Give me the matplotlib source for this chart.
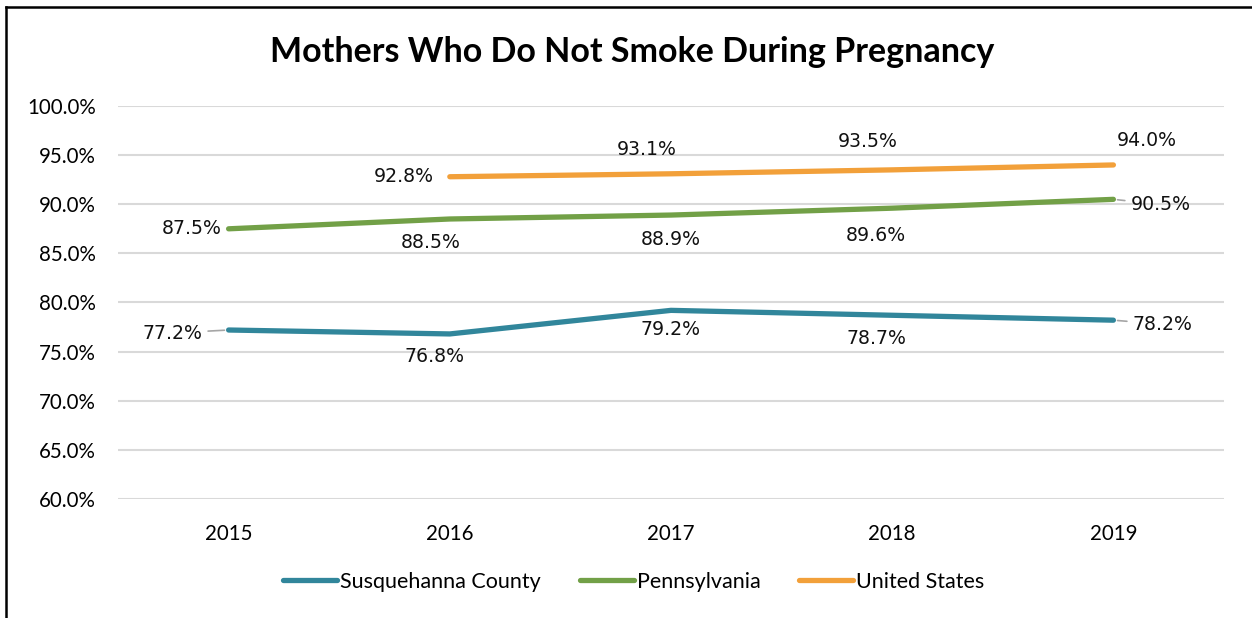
import matplotlib
matplotlib.use("Agg")
import matplotlib.pyplot as plt
from matplotlib.lines import Line2D

years = ["2015", "2016", "2017", "2018", "2019"]
susquehanna = [77.2, 76.8, 79.2, 78.7, 78.2]
pennsylvania = [87.5, 88.5, 88.9, 89.6, 90.5]
us_years = ["2016", "2017", "2018", "2019"]
united_states = [92.8, 93.1, 93.5, 94.0]
y_ticks = [60, 65, 70, 75, 80, 85, 90, 95, 100]

# label offsets in pixels (dx, dy) and whether a leader line is drawn
susq_offsets = [(-56, -3, True), (-15, -23, False), (0, -19, False), (-16, -23, False), (49, -4, True)]
pa_offsets = [(-37, 0, False), (-19, -24, False), (0, -24, False), (-16, -27, False), (47, -5, True)]
us_offsets = [(-46, 0, False), (-24, 24, False), (-25, 28, False), (33, 24, False)]

TEAL = "#31869B"
GREEN = "#72A047"
ORANGE = "#F2A03A"

W, H = 1252, 618
fig = plt.figure(figsize=(W / 100, H / 100), dpi=100)
ax = fig.add_axes([118 / W, 1 - 499 / H, (1224 - 118) / W, (499 - 106) / H])

x_all = list(range(len(years)))
x_us = [years.index(y) for y in us_years]

ax.plot(x_all, susquehanna, color=TEAL, lw=3.8, solid_capstyle="round", zorder=3)
ax.plot(x_all, pennsylvania, color=GREEN, lw=3.8, solid_capstyle="round", zorder=3)
ax.plot(x_us, united_states, color=ORANGE, lw=3.8, solid_capstyle="round", zorder=3)

label_font = dict(family="DejaVu Sans", size=13.6, color="#111111")


def add_labels(xs, vals, offsets):
    for x, v, (dx, dy, leader) in zip(xs, vals, offsets):
        kw = {}
        if leader:
            kw["arrowprops"] = dict(arrowstyle="-", color="#A6A6A6", lw=1.2,
                                    shrinkA=2, shrinkB=3)
        ax.annotate(f"{v:.1f}%", xy=(x, v), xytext=(dx, dy),
                    textcoords="offset pixels", ha="center", va="center",
                    zorder=4, **label_font, **kw)


add_labels(x_all, susquehanna, susq_offsets)
add_labels(x_all, pennsylvania, pa_offsets)
add_labels(x_us, united_states, us_offsets)

ax.set_xlim(-0.5, len(years) - 0.5)
ax.set_ylim(60, 100)
ax.set_yticks(y_ticks)
ax.set_yticklabels([f"{t:.1f}%" for t in y_ticks], family="Lato", fontsize=14.8)
ax.set_xticks(x_all)
ax.set_xticklabels(years, family="Lato", fontsize=14.8)
ax.tick_params(axis="y", length=0, pad=16)
ax.tick_params(axis="x", length=0, pad=18)
ax.grid(axis="y", color="#D9D9D9", lw=1.5)
ax.set_axisbelow(True)
for s in ax.spines.values():
    s.set_visible(False)

fig.text(632 / W, 1 - 52 / H, "Mothers Who Do Not Smoke During Pregnancy",
         ha="center", va="center", family="Lato", weight="bold", fontsize=24.5)

handles = [Line2D([], [], color=c, lw=3.8, solid_capstyle="round") for c in (TEAL, GREEN, ORANGE)]
fig.legend(handles, ["Susquehanna County", "Pennsylvania", "United States"],
           loc="center", bbox_to_anchor=(634 / W, 1 - 582 / H), ncol=3,
           frameon=False, prop=dict(family="Lato", size=15.5),
           handlelength=2.5, handletextpad=0.15, columnspacing=1.8)

# outer frame: left and top edges
fig.add_artist(Line2D([5.5 / W, 5.5 / W], [0, 1 - 7 / H], color="black", lw=1.8, transform=fig.transFigure))
fig.add_artist(Line2D([5.5 / W, 1], [1 - 7 / H, 1 - 7 / H], color="black", lw=1.8, transform=fig.transFigure))

fig.savefig("out.png", dpi=100, facecolor="white")
